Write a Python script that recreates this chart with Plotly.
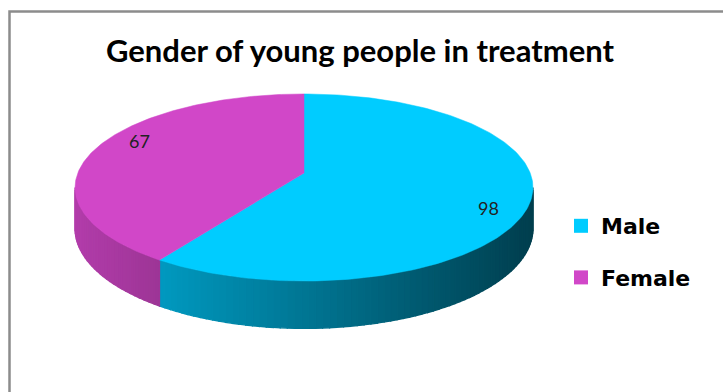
import numpy as np
import plotly.graph_objects as go

# Chart data
labels = ["Male", "Female"]
values = [98, 67]
top_colors = ["#00CCFF", "#D147C8"]
title_text = "Gender of young people in treatment"

W, H = 723, 392

# Pie geometry (pixel space, y grows downward), with a mild perspective
cx, cy = 304, 173       # projected centre of the top face
A, B = 226.2, 91.3      # horizontal / vertical radii before perspective
k = 0.155               # perspective strength (far side shrinks)
depth = 40              # rim thickness at the centre line


def pt(theta_deg, frac=1.0, lower=False):
    t = np.radians(theta_deg)
    u = frac * np.sin(t)
    v = frac * np.cos(t)
    den = 1 + k * v
    x = cx + A * u / den
    y = cy - B * v / den
    if lower:
        y = y + depth / den
    return x, y


def hex_rgb(h):
    h = h.lstrip("#")
    return tuple(int(h[i:i + 2], 16) for i in (0, 2, 4))


def shade(hexcol, nx):
    # rim gets darker towards the right
    f = 0.58 - 0.27 * nx
    r, g, b = hex_rgb(hexcol)
    return f"rgb({int(r * f)},{int(g * f)},{int(b * f)})"


total = sum(values)
spans = [v / total * 360 for v in values]
starts = np.concatenate([[0], np.cumsum(spans)[:-1]])

# silhouette angles of the rim
side = np.degrees(np.arccos(-k))
vis0, vis1 = side, 360 - side

fig = go.Figure()

# Front rim of each slice, drawn as thin shaded strips
for lab, s, sp, col in zip(labels, starts, spans, top_colors):
    a0, a1 = max(s, vis0), min(s + sp, vis1)
    if a1 <= a0:
        continue
    n = max(2, int((a1 - a0) / 1.5))
    edges = np.linspace(a0, a1, n + 1)
    for e0, e1 in zip(edges[:-1], edges[1:]):
        arc = np.linspace(e0, e1, 4)
        xs_top, ys_top = pt(arc)
        xs_bot, ys_bot = pt(arc[::-1], lower=True)
        xs = np.concatenate([xs_top, xs_bot, xs_top[:1]])
        ys = np.concatenate([ys_top, ys_bot, ys_top[:1]])
        nx = (np.mean(xs_top) - cx) / A
        c = shade(col, nx)
        fig.add_trace(go.Scatter(
            x=xs, y=ys, mode="lines", fill="toself", fillcolor=c,
            line=dict(color=c, width=1.3), hoverinfo="skip", showlegend=False))

# Top faces
for lab, v, s, sp, col in zip(labels, values, starts, spans, top_colors):
    arc = np.linspace(s, s + sp, 200)
    ax, ay = pt(arc)
    xs = np.concatenate([[cx], ax, [cx]])
    ys = np.concatenate([[cy], ay, [cy]])
    fig.add_trace(go.Scatter(
        x=xs, y=ys, mode="lines", fill="toself", fillcolor=col,
        line=dict(color=col, width=0.5), name=lab,
        hovertemplate=f"{lab}: {v}<extra></extra>", showlegend=False))

# Value labels
label_turn = 8.5
for v, s, sp in zip(values, starts, spans):
    lx, ly = pt(s + sp / 2 + label_turn, frac=0.85)
    fig.add_annotation(x=lx, y=ly, text=str(v), showarrow=False,
                       font=dict(family="Lato, Carlito, sans-serif", size=18, color="#222222"))

# Legend entries
for lab, col in zip(labels, top_colors):
    fig.add_trace(go.Scatter(
        x=[None], y=[None], mode="markers", name=lab, legendgroup=lab,
        marker=dict(symbol="square", size=14, color=col), showlegend=True))

# Chart frame
fig.add_shape(type="rect", xref="paper", yref="paper",
              x0=9.5 / W, x1=1.05, y0=-0.05, y1=1 - 11.5 / H,
              line=dict(color="#8C8C8C", width=2.5), fillcolor="rgba(0,0,0,0)", layer="below")

fig.update_layout(
    width=W, height=H,
    margin=dict(l=0, r=0, t=0, b=0),
    paper_bgcolor="white", plot_bgcolor="white",
    title=dict(text=f"<b>{title_text}</b>", x=360 / W, xanchor="center",
               y=1 - 51 / H, yanchor="middle",
               font=dict(family="Lato, Carlito, sans-serif", size=31, color="#000000")),
    xaxis=dict(range=[0, W], visible=False, fixedrange=True),
    yaxis=dict(range=[H, 0], visible=False, fixedrange=True),
    legend=dict(x=561 / W, xanchor="left", y=1 - 205 / H, yanchor="top",
                font=dict(family="DejaVu Sans, Verdana, sans-serif", size=22, color="#000000",
                          weight="bold"),
                traceorder="grouped", tracegroupgap=20, bgcolor="rgba(0,0,0,0)"),
    showlegend=True,
)

fig.write_html("out.html")
